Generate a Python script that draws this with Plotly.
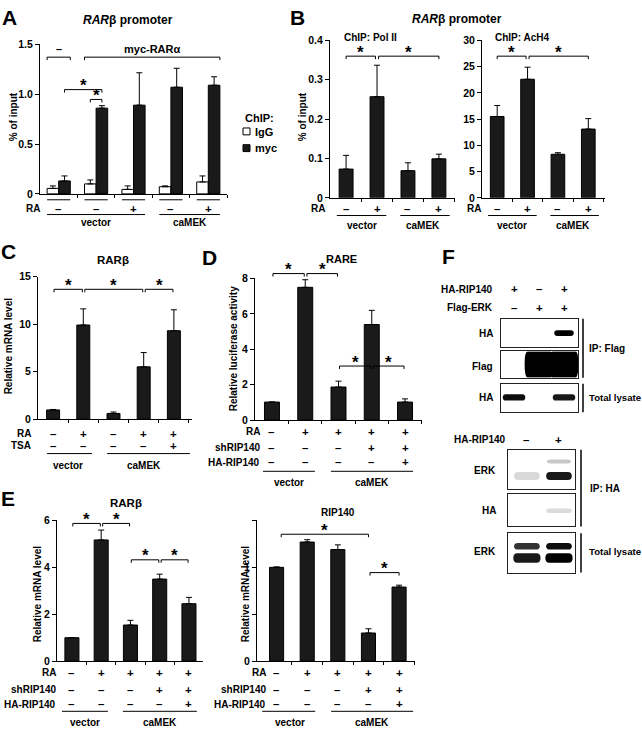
import plotly.graph_objects as go

W, H = 642, 736
FONT = "Liberation Sans, Arial, sans-serif"
FS = 10  # base text size
SIGN = 11.5  # size of the +/– condition marks

# ---- data ----
# A: ChIP on RARb promoter (IgG vs myc), 5 conditions
a_ra = ["–", "–", "+", "–", "+"]
a_igg = [0.055, 0.10, 0.045, 0.072, 0.12]
a_igg_err = [0.025, 0.04, 0.035, 0.008, 0.06]
a_myc = [0.13, 0.86, 0.89, 1.07, 1.09]
a_myc_err = [0.05, 0.025, 0.325, 0.19, 0.085]

# B: ChIP Pol II / AcH4
b_ra = ["–", "+", "–", "+"]
b_pol2 = [0.073, 0.257, 0.069, 0.099]
b_pol2_err = [0.035, 0.08, 0.02, 0.012]
b_ach4 = [15.5, 22.6, 8.3, 13.1]
b_ach4_err = [2.1, 2.3, 0.3, 2.0]

# C: RARb mRNA
c_ra = ["–", "+", "–", "+", "+"]
c_tsa = ["–", "–", "–", "–", "+"]
c_rarb = [0.97, 9.9, 0.6, 5.5, 9.3]
c_rarb_err = [0.05, 1.7, 0.15, 1.5, 2.2]

# D: RARE luciferase
d_ra = ["–", "+", "+", "+", "+"]
d_sh = ["–", "–", "–", "+", "+"]
d_ha = ["–", "–", "–", "–", "+"]
d_rare = [1.02, 7.5, 1.87, 5.4, 1.02]
d_rare_err = [0.0, 0.43, 0.33, 0.8, 0.18]

# E: RARb and RIP140 mRNA (same conditions as D)
e_rarb = [1.0, 5.17, 1.54, 3.5, 2.45]
e_rarb_err = [0.0, 0.42, 0.2, 0.21, 0.27]
e_rip140 = [1.0, 1.27, 1.19, 0.30, 0.79]
e_rip140_err = [0.005, 0.025, 0.05, 0.045, 0.02]

# F: western blot band intensities per lane
f_ha_rip = ["+", "–", "+"]
f_flag_erk = ["–", "+", "+"]
f_ha_ip = [0.0, 0.0, 1.0]
f_flag_ip = [0.0, 1.0, 1.0]
f_ha_total = [0.95, 0.0, 0.9]
g_ha_rip = ["–", "+"]
g_erk_ip = [0.15, 0.9]
g_erk_ip_upper = [0.0, 0.22]
g_ha_ip = [0.0, 0.14]
g_erk_tot_upper = [0.8, 0.95]
g_erk_tot_lower = [0.9, 1.0]


def px(x):
    return x / W


def py(y):
    return 1 - y / H


def ref(n, a):
    return a if n == 1 else f"{a}{n}"


fig = go.Figure()

# panel geometry: pixel boxes and axis ranges
panels = {
    1: dict(x=(40, 227), y=(39, 191), xr=(-0.5, 4.5), yr=(0, 1.5), n=5,
            tv=[0, 0.5, 1.0, 1.5], tt=["0", "0.5", "1.0", "1.5"]),
    2: dict(x=(330, 455), y=(35, 195), xr=(-0.52, 3.52), yr=(0, 0.4), n=4,
            tv=[0, 0.1, 0.2, 0.3, 0.4], tt=["0", "0.1", "0.2", "0.3", "0.4"]),
    3: dict(x=(482, 605), y=(35, 195), xr=(-0.5, 3.55), yr=(0, 30), n=4,
            tv=[0, 5, 10, 15, 20, 25, 30], tt=None),
    4: dict(x=(38, 192), y=(275, 420), xr=(-0.5, 4.6), yr=(0, 15), n=5,
            tv=[0, 5, 10, 15], tt=None),
    5: dict(x=(255, 422), y=(277, 421), xr=(-0.51, 4.51), yr=(0, 8), n=5,
            tv=[0, 2, 4, 6, 8], tt=None),
    6: dict(x=(57, 203), y=(523, 666), xr=(-0.51, 4.48), yr=(0, 6), n=5,
            tv=[0, 2, 4, 6], tt=None),
    7: dict(x=(257, 415), y=(523, 666), xr=(-0.64, 4.52), yr=(0, 1.5), n=5,
            tv=[0, 0.5, 1, 1.5], tt=["0", "", "1", ""]),
}

for n, p in panels.items():
    fig.layout[ref(n, "xaxis")] = dict(
        domain=[px(p["x"][0]), px(p["x"][1])], range=list(p["xr"]), anchor=ref(n, "y"),
        showline=True, linecolor="black", linewidth=1, ticks="outside", ticklen=3,
        tickcolor="black", tickvals=[i + 0.5 for i in range(p["n"])], showticklabels=False,
        showgrid=False, zeroline=False, fixedrange=True)
    fig.layout[ref(n, "yaxis")] = dict(
        domain=[py(p["y"][1]), py(p["y"][0])], range=list(p["yr"]), anchor=ref(n, "x"),
        showline=True, linecolor="black", linewidth=1, ticks="outside", ticklen=4,
        tickcolor="black", tickvals=p["tv"], ticktext=p["tt"] or [str(v) for v in p["tv"]],
        tickfont=dict(size=FS + 0.5, family=FONT, color="black", weight="bold"),
        showgrid=False, zeroline=False, fixedrange=True)


def bars(n, vals, errs, color="#1a1a1a", width=0.45, offset=None):
    fig.add_trace(go.Bar(
        x=list(range(len(vals))), y=vals, width=width, offset=offset,
        marker=dict(color=color, line=dict(color="black", width=1)),
        error_y=dict(type="data", array=errs, arrayminus=[0] * len(vals), symmetric=False,
                     color="black", thickness=1, width=3),
        xaxis=ref(n, "x"), yaxis=ref(n, "y"), showlegend=False, hoverinfo="y"))


bars(1, a_igg, a_igg_err, color="white", width=0.31, offset=-0.31)
bars(1, a_myc, a_myc_err, width=0.31, offset=0)
bars(2, b_pol2, b_pol2_err, width=0.45)
bars(3, b_ach4, b_ach4_err, width=0.45)
bars(4, c_rarb, c_rarb_err, width=0.43)
bars(5, d_rare, d_rare_err, width=0.45)
bars(6, e_rarb, e_rarb_err, width=0.48)
bars(7, e_rip140, e_rip140_err, width=0.46)

ann = []
shapes = []


def text(x, y, s, size=FS, xanchor="center", xref="paper", angle=0, bold=True):
    ann.append(dict(x=px(x) if xref == "paper" else x, y=py(y), xref=xref, yref="paper",
                    text=f"<b>{s}</b>" if bold else s, showarrow=False, xanchor=xanchor,
                    yanchor="middle", textangle=angle,
                    font=dict(size=size, family=FONT, color="black")))


def hline(n, x0, x1, y, w=1):
    shapes.append(dict(type="line", xref=ref(n, "x"), yref="paper", x0=x0, x1=x1,
                       y0=py(y), y1=py(y), line=dict(color="black", width=w)))


def bracket(n, x0, x1, y, label="*", size=17):
    leg = 3
    shapes.append(dict(type="path", xref=ref(n, "x"), yref="paper",
                       path=f"M {x0},{py(y + leg)} L {x0},{py(y)} L {x1},{py(y)} L {x1},{py(y + leg)}",
                       line=dict(color="black", width=1)))
    if label == "*":
        text((x0 + x1) / 2, y - 4, "*", size=size, xref=ref(n, "x"))
    else:
        text((x0 + x1) / 2, y - 8, label, size=FS + 1, xref=ref(n, "x"))


def rows(n, names, values, ys, right_x):
    for name, vals, y in zip(names, values, ys):
        text(right_x, y, name, xanchor="right")
        for i, v in enumerate(vals):
            text(i, y, v, size=SIGN, xref=ref(n, "x"))


def groups(n, spans, y_line, y_text):
    for name, x0, x1, xc in spans:
        hline(n, x0, x1, y_line)
        text(xc, y_text, name, xref=ref(n, "x"))


# ---- panel letters and titles ----
text(9, 12, "A", size=21)
text(297, 12, "B", size=21)
text(8, 250, "C", size=21)
text(209, 256, "D", size=21)
text(8, 501, "E", size=21)
text(448, 255, "F", size=21)

text(128, 14, "<i>RAR</i>β promoter", size=12)
text(457, 13, "<i>RAR</i>β promoter", size=12)
text(342, 32, "ChIP: Pol II", xanchor="left")
text(493, 32, "ChIP: AcH4", xanchor="left")
text(113, 258, "RARβ", size=11.5)
text(342, 257, "RARE", size=11)
text(126, 505, "RARβ", size=11.5)
text(338, 515, "RIP140", size=FS)

# y axis titles
text(13, 113, "% of input", angle=-90)
text(302, 113, "% of input", angle=-90)
text(8, 346, "Relative mRNA level", angle=-90)
text(233, 348, "Relative luciferase activity", angle=-90)
text(37, 598, "Relative mRNA level", angle=-90)
text(245, 598, "Relative mRNA level", angle=-90)

# ---- A annotations ----
for g in range(5):
    hline(1, g - 0.31, g + 0.31, 197)
rows(1, ["RA"], [a_ra], [206], 42)
groups(1, [("vector", -0.31, 2.31, 1), ("caMEK", 2.69, 4.31, 3.5)], 212, 220)
bracket(1, -0.31, 0.31, 52, "–")
bracket(1, 0.69, 4.31, 52, "myc-RARα")
bracket(1, 0.155, 1.155, 85)
bracket(1, 0.845, 1.155, 95)
# legend
text(243, 114, "ChIP:", xanchor="left", size=FS + 1)
shapes.append(dict(type="rect", xref="paper", yref="paper", x0=px(243), x1=px(250),
                   y0=py(131), y1=py(124), line=dict(color="black", width=1), fillcolor="white"))
shapes.append(dict(type="rect", xref="paper", yref="paper", x0=px(243), x1=px(250),
                   y0=py(148), y1=py(141), line=dict(color="black", width=1), fillcolor="#1a1a1a"))
text(253, 128, "IgG", xanchor="left", size=FS + 1)
text(253, 144, "myc", xanchor="left", size=FS + 1)

# ---- B annotations ----
for n, rx in ((2, 327), (3, 483)):
    rows(n, ["RA"], [b_ra], [206], rx)
    groups(n, [("vector", -0.3, 1.3, 0.5), ("caMEK", 1.75, 3.35, 2.5)], 213, 223)
    bracket(n, 0, 0.95, 51)
    bracket(n, 1.05, 3, 51)

# ---- C annotations ----
rows(4, ["RA", "TSA"], [c_ra, c_tsa], [435, 447], 33)
groups(4, [("vector", -0.2, 1.29, 0.5), ("caMEK", 1.79, 4.53, 3)], 455, 467)
bracket(4, 0.03, 0.97, 288)
bracket(4, 1.05, 2.97, 288)
bracket(4, 3.05, 3.97, 288)

# ---- D annotations ----
row_names = ["RA", "shRIP140", "HA-RIP140"]
rows(5, row_names, [d_ra, d_sh, d_ha], [433, 449, 464], 262)
groups(5, [("vector", -0.27, 1.29, 0.5), ("caMEK", 1.77, 4.24, 3)], 473, 484)
bracket(5, 0.03, 0.97, 272)
bracket(5, 1.05, 1.97, 272)
bracket(5, 2.03, 2.97, 366)
bracket(5, 3.05, 3.97, 366)

# ---- E annotations ----
rows(6, row_names, [d_ra, d_sh, d_ha], [678, 695, 710], 58)
groups(6, [("vector", -0.34, 1.23, 0.45), ("caMEK", 1.74, 4.27, 3)], 717, 728)
bracket(6, 0.03, 0.97, 526)
bracket(6, 1.05, 1.97, 526)
bracket(6, 2.03, 2.97, 563)
bracket(6, 3.05, 3.97, 563)

rows(7, row_names, [d_ra, d_sh, d_ha], [678, 695, 710], 268)
groups(7, [("vector", -0.47, 1.26, 0.44), ("caMEK", 1.78, 4.46, 3.1)], 717, 728)
bracket(7, 0.15, 3, 537)
bracket(7, 3.05, 4, 576)

# ---- F: western blots ----
blots = {
    8: dict(x=(501, 578), y=(318, 347), xr=(-0.52, 2.56)),
    9: dict(x=(501, 578), y=(351, 378), xr=(-0.52, 2.56)),
    10: dict(x=(501, 578), y=(384, 413), xr=(-0.52, 2.56)),
    11: dict(x=(508, 575), y=(451, 491), xr=(-0.59, 1.5)),
    12: dict(x=(508, 575), y=(496, 529), xr=(-0.59, 1.5)),
    13: dict(x=(508, 575), y=(536, 576), xr=(-0.59, 1.5)),
}
for n, b in blots.items():
    common = dict(showline=True, mirror=True, linecolor="#222", linewidth=1.2, ticks="",
                  showticklabels=False, showgrid=False, zeroline=False, fixedrange=True)
    fig.layout[f"xaxis{n}"] = dict(domain=[px(b["x"][0]), px(b["x"][1])], range=list(b["xr"]),
                                   anchor=f"y{n}", **common)
    fig.layout[f"yaxis{n}"] = dict(domain=[py(b["y"][1]), py(b["y"][0])], range=[0, 1],
                                   anchor=f"x{n}", **common)


def bands(n, intens, yc, h, w):
    for lane, v in enumerate(intens):
        if v <= 0:
            continue
        x0, x1 = lane - w / 2, lane + w / 2
        y0, y1 = yc - h / 2, yc + h / 2
        rx, ry = min(w / 2, 0.12), h / 2
        path = (f"M {x0 + rx},{y0} L {x1 - rx},{y0} Q {x1},{y0} {x1},{y0 + ry} "
                f"Q {x1},{y1} {x1 - rx},{y1} L {x0 + rx},{y1} Q {x0},{y1} {x0},{y1 - ry} "
                f"Q {x0},{y0} {x0 + rx},{y0} Z")
        shapes.append(dict(type="path", xref=f"x{n}", yref=f"y{n}", path=path,
                           fillcolor="black", opacity=v, line=dict(width=0), layer="below"))


bands(8, f_ha_ip, 0.5, 0.2, 0.78)
bands(9, f_flag_ip, 0.5, 0.98, 1.15)
bands(10, f_ha_total, 0.52, 0.22, 0.9)
bands(11, g_erk_ip, 0.33, 0.2, 0.8)
bands(11, g_erk_ip_upper, 0.7, 0.1, 0.75)
bands(12, g_ha_ip, 0.48, 0.14, 0.8)
bands(13, g_erk_tot_upper, 0.67, 0.17, 0.8)
bands(13, g_erk_tot_lower, 0.37, 0.24, 0.85)

text(495, 288, "HA-RIP140", xanchor="right")
text(495, 307, "Flag-ERK", xanchor="right")
for i, (a, b) in enumerate(zip(f_ha_rip, f_flag_erk)):
    text(i, 288, a, size=SIGN, xref="x8")
    text(i, 307, b, size=SIGN, xref="x8")
text(495, 333, "HA", xanchor="right")
text(495, 366, "Flag", xanchor="right")
text(495, 398, "HA", xanchor="right")
text(587, 348, "IP: Flag", xanchor="left")
text(587, 398, "Total lysate", xanchor="left", size=9.6)

text(508, 441, "HA-RIP140", xanchor="right")
for i, a in enumerate(g_ha_rip):
    text(i, 441, a, size=SIGN, xref="x11")
text(498, 472, "ERK", xanchor="right")
text(498, 513, "HA", xanchor="right")
text(498, 555, "ERK", xanchor="right")
text(588, 490, "IP: HA", xanchor="left")
text(587, 555, "Total lysate", xanchor="left", size=9.6)

for x, y0, y1 in ((583, 318, 378), (583, 384, 413), (581, 451, 529), (581, 536, 576)):
    shapes.append(dict(type="line", xref="paper", yref="paper", x0=px(x), x1=px(x),
                       y0=py(y0), y1=py(y1), line=dict(color="black", width=1.5)))

fig.update_layout(
    width=W, height=H, margin=dict(l=0, r=0, t=0, b=0),
    paper_bgcolor="white", plot_bgcolor="white", barmode="overlay",
    showlegend=False, annotations=ann, shapes=shapes,
    font=dict(family=FONT, size=FS, color="black"),
)

# the page body has a default 8px margin; drop it so the figure sits at the window origin
fig.write_html("out.html", config={"displayModeBar": False},
               post_script="document.body.style.margin='0';")
